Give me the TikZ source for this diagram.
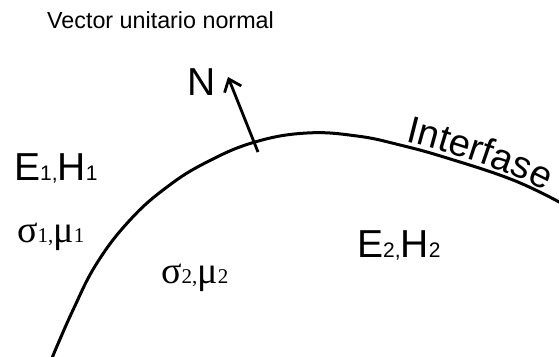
\documentclass[tikz,border=0pt]{standalone}
\usepackage{fontspec}
\setmainfont{Liberation Sans}
\newfontfamily\greekfont{Liberation Serif}
\usetikzlibrary{positioning,arrows.meta,decorations.text}

\begin{document}
\begin{tikzpicture}[
    x=1pt, y=-1pt,
    field/.style={
        inner sep=0pt,
        anchor=base west,
        font=\fontsize{39}{39}\selectfont
    },
    medium/.style={
        inner sep=0pt,
        anchor=base west,
        font=\greekfont\fontsize{38}{38}\selectfont
    },
    interface/.style={line width=3pt, line cap=round},
    arrow/.style={
        -{Straight Barb[length=11pt,width=18pt,line width=2.8pt]},
        line width=2.8pt
    }
]

\def\fsub#1{{\fontsize{21}{21}\selectfont #1}}
\def\gsub#1{{\fontsize{21}{21}\selectfont #1}}

\useasboundingbox (0,0) rectangle (559,356);

%% ===== TITLE =====
\node[inner sep=0pt, anchor=base west, font=\fontsize{23.3}{23.3}\selectfont]
  (title) at (47,28.5) {Vector unitario normal};

%% ===== INTERFACE CURVE =====
\draw[interface] plot[smooth, tension=0.7] coordinates {
  (52,358) (73,310) (97,263) (130,220) (167,187) (207,162) (255,142)
  (307,133) (357,136) (400,145) (447,158) (513,180) (561,203)};

\path[decorate, decoration={text along path, raise=5pt,
      text align={left indent=0pt},
      text={|\fontsize{38}{38}\selectfont|Interfase}}]
  plot[smooth, tension=0.7] coordinates {
  (404,146) (447,158) (513,181) (561,205) (600,228)};

%% ===== NORMAL VECTOR =====
\coordinate (ntail) at (258,152);
\coordinate (nhead) at (228,77);
\draw[arrow] (ntail) -- (nhead);
\node[field] (nlabel) at (187,95) {N};

%% ===== MEDIA =====
\node[field] (f1) at (14,180) {E\fsub{1,}H\fsub{1}};
\node[medium] (m1) at (17,242) {σ\gsub{1,}μ\gsub{1}};

\node[medium] (m2) at (161,283) {σ\gsub{2,}μ\gsub{2}};
\node[field] (f2) at (357,257) {E\fsub{2,}H\fsub{2}};

\end{tikzpicture}
\end{document}
